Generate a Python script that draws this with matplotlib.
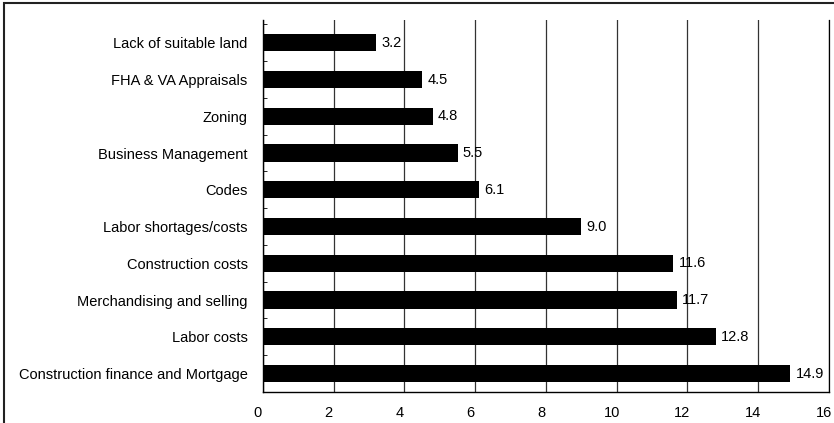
# horizontal bar chart - problems reported by builders
import matplotlib.pyplot as plt
import matplotlib.transforms as mtransforms
import numpy as np

plt.rcParams['font.family'] = ['Liberation Sans', 'DejaVu Sans']

# data (top to bottom as shown)
categories = ["Lack of suitable land", "FHA & VA Appraisals", "Zoning",
              "Business Management", "Codes", "Labor shortages/costs",
              "Construction costs", "Merchandising and selling",
              "Labor costs", "Construction finance and Mortgage"]
values = [3.2, 4.5, 4.8, 5.5, 6.1, 9.0, 11.6, 11.7, 12.8, 14.9]
xticks = [0, 2, 4, 6, 8, 10, 12, 14, 16]

fig = plt.figure(figsize=(8.34, 4.23), dpi=100)
ax = fig.add_axes([0.3153, 0.0733, 0.6787, 0.8794])

y = np.arange(len(categories))
ax.barh(y, values, height=0.47, color='black', zorder=3)

# value labels
for yi, v in zip(y, values):
    ax.text(v + 0.15, yi, "%.1f" % v, va='center', ha='left', fontsize=10.5, zorder=4)

ax.set_xlim(0, 16)
ax.set_ylim(9.46, -0.62)
ax.set_xticks(xticks)
ax.set_xticklabels([str(t) for t in xticks], fontsize=10.5)
ax.set_yticks(y)
ax.set_yticklabels(categories, fontsize=10.5)
ax.tick_params(axis='y', length=0, pad=11)
ax.tick_params(axis='x', length=0, pad=10)
# x labels sit a bit left of their gridlines in the original
shift = mtransforms.ScaledTranslation(-5 / 100, 0, fig.dpi_scale_trans)
for lab in ax.get_xticklabels():
    lab.set_transform(lab.get_transform() + shift)
# little marks between categories
ax.set_yticks(np.arange(len(categories) + 1) - 0.5, minor=True)
ax.tick_params(axis='y', which='minor', direction='in', length=3, width=0.6)

# vertical gridlines
ax.grid(axis='x', color='#333333', linewidth=0.9, zorder=0)
ax.spines['top'].set_visible(False)
ax.spines['right'].set_linewidth(0.9)
ax.spines['left'].set_linewidth(1.0)
ax.spines['bottom'].set_linewidth(1.0)

# border around the picture (right/bottom edges run off the image)
border = plt.Rectangle((4 / 834, -0.05), 1.1, 1 - 3 / 423 + 0.05,
                       transform=fig.transFigure, fill=False,
                       edgecolor='#222222', linewidth=1.5)
fig.patches.append(border)

fig.savefig("out.png", dpi=100)
